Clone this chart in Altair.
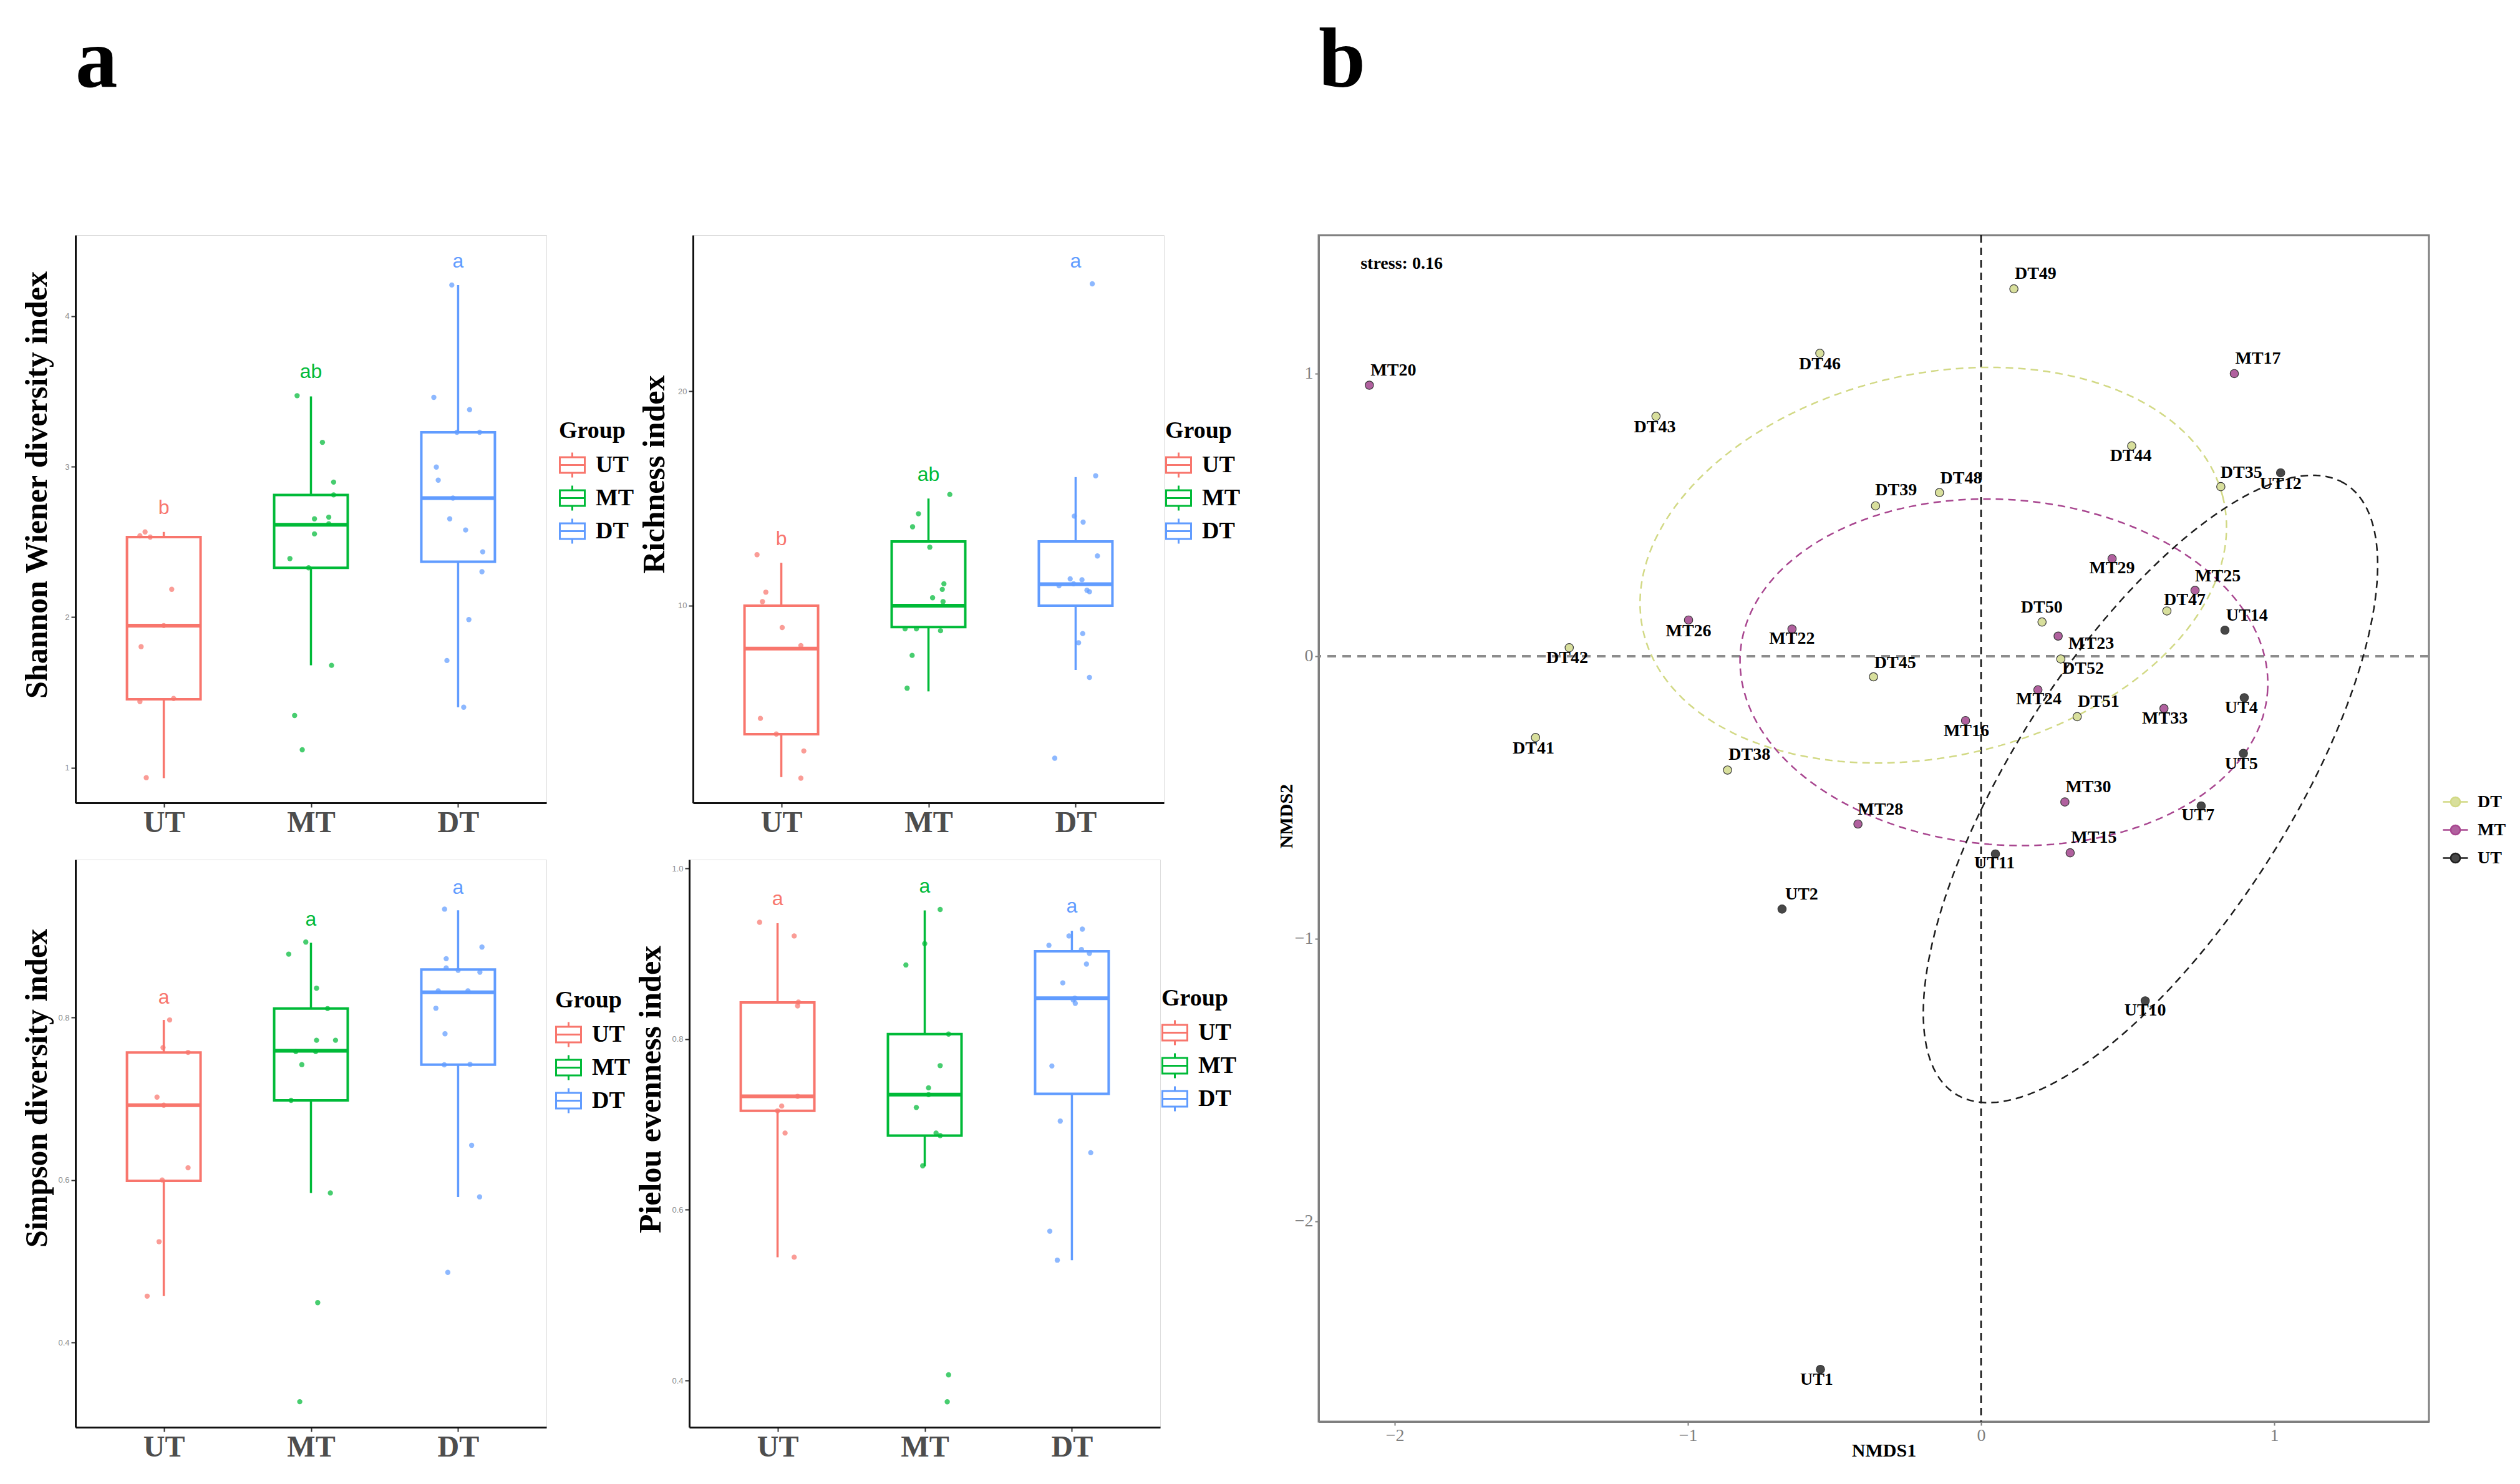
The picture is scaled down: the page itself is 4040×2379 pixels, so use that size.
import altair as alt
import pandas as pd
import numpy as np

SERIF = "Liberation Serif"
SANS = "Liberation Sans"
GROUPS = ["UT", "MT", "DT"]
BOX_COLORS = ["#F8766D", "#00BA38", "#619CFF"]

# ---------------- panel a : alpha diversity ----------------
# jittered sample values (as drawn) and their horizontal jitter (category units)
sh_UT = [2.566, 2.532, 2.54, 2.185, 1.944, 1.804, 1.439, 1.46, 0.934]
sh_UT_j = [-0.127, -0.092, -0.162, 0.054, 0.0, -0.154, -0.162, 0.067, -0.119]
sh_MT = [3.471, 3.161, 2.897, 2.812, 2.653, 2.664, 2.62, 2.553, 2.389, 2.328, 1.68, 1.347, 1.119]
sh_MT_j = [-0.094, 0.078, 0.154, 0.154, 0.024, 0.121, 0.121, 0.024, -0.143, -0.016, 0.14, -0.111, -0.059]
sh_DT = [4.206, 3.46, 3.378, 3.228, 3.228, 2.997, 2.91, 2.791, 2.653, 2.579, 2.434, 2.302, 1.984, 1.712, 1.402]
sh_DT_j = [-0.043, -0.165, 0.078, -0.008, 0.146, -0.148, -0.135, -0.035, -0.057, 0.051, 0.167, 0.162, 0.073, -0.076, 0.038]
sh_lo = [0.931, 1.68, 1.402]
sh_q1 = [1.455, 2.328, 2.368]
sh_med = [1.944, 2.614, 2.791]
sh_q3 = [2.532, 2.812, 3.228]
sh_hi = [2.566, 3.466, 4.206]
sh_letters = ["b", "ab", "a"]
sh_letter_y = [2.725, 3.63, 4.365]

ri_UT = [12.38, 10.63, 10.19, 8.98, 8.14, 4.74, 4.01, 3.22, 1.95]
ri_UT_j = [-0.165, -0.105, -0.128, 0.006, 0.133, -0.142, -0.034, 0.153, 0.133]
ri_MT = [15.19, 14.29, 13.68, 12.73, 11.02, 10.76, 10.37, 10.19, 8.92, 8.92, 8.83, 7.68, 6.15]
ri_MT_j = [0.145, -0.068, -0.108, 0.009, 0.105, 0.094, 0.028, 0.099, -0.159, -0.082, 0.082, -0.111, -0.145]
ri_DT = [25.02, 16.06, 14.18, 13.9, 12.32, 11.25, 11.21, 10.93, 10.72, 10.65, 8.7, 8.27, 6.65, 2.88, 11.02]
ri_DT_j = [0.113, 0.136, -0.009, 0.051, 0.148, -0.037, 0.043, -0.113, 0.077, 0.094, 0.048, 0.02, 0.094, -0.142, -0.014]
ri_lo = [2, 6, 7]
ri_q1 = [4, 9, 10]
ri_med = [8, 10, 11]
ri_q3 = [10, 13, 13]
ri_hi = [12, 15, 16]
ri_letters = ["b", "ab", "a"]
ri_letter_y = [13.1, 16.1, 26.08]

si_UT = [0.797, 0.763, 0.757, 0.702, 0.692, 0.615, 0.6, 0.524, 0.457]
si_UT_j = [0.04, -0.005, 0.165, -0.046, 0.0, 0.165, -0.011, -0.032, -0.113]
si_MT = [0.8928, 0.878, 0.836, 0.811, 0.772, 0.772, 0.758, 0.758, 0.742, 0.698, 0.584, 0.449, 0.327]
si_MT_j = [-0.035, -0.151, 0.038, 0.113, 0.038, 0.167, -0.103, 0.032, -0.062, -0.135, 0.132, 0.046, -0.076]
si_DT = [0.9334, 0.8867, 0.8724, 0.861, 0.8557, 0.8328, 0.8328, 0.8114, 0.78, 0.7418, 0.7423, 0.6427, 0.5792, 0.4862, 0.858]
si_DT_j = [-0.092, 0.162, -0.081, -0.081, 0.148, -0.135, 0.067, -0.151, -0.089, -0.094, 0.081, 0.092, 0.146, -0.07, 0.0]
si_lo = [0.457, 0.584, 0.579]
si_q1 = [0.599, 0.698, 0.742]
si_med = [0.692, 0.759, 0.831]
si_q3 = [0.757, 0.811, 0.859]
si_hi = [0.797, 0.892, 0.932]
si_letters = ["a", "a", "a"]
si_letter_y = [0.825, 0.921, 0.96]

pi_UT = [0.937, 0.921, 0.8435, 0.839, 0.733, 0.7216, 0.716, 0.690, 0.5445]
pi_UT_j = [-0.122, 0.113, 0.142, 0.136, 0.136, 0.028, 0.0, 0.051, 0.113]
pi_MT = [0.952, 0.912, 0.887, 0.806, 0.769, 0.743, 0.735, 0.720, 0.690, 0.687, 0.6515, 0.4066, 0.375]
pi_MT_j = [0.105, 0.0, -0.128, 0.162, 0.105, 0.026, 0.026, -0.057, 0.077, 0.105, -0.014, 0.162, 0.153]
pi_DT = [0.929, 0.921, 0.91, 0.905, 0.9006, 0.888, 0.866, 0.842, 0.846, 0.7686, 0.704, 0.667, 0.575, 0.541, 0.848]
pi_DT_j = [0.071, -0.02, -0.156, 0.065, 0.119, 0.099, -0.062, 0.023, 0.009, -0.136, -0.079, 0.128, -0.15, -0.099, 0.02]
pi_lo = [0.5445, 0.651, 0.541]
pi_q1 = [0.716, 0.687, 0.736]
pi_med = [0.733, 0.735, 0.848]
pi_q3 = [0.843, 0.806, 0.903]
pi_hi = [0.936, 0.951, 0.927]
pi_letters = ["a", "a", "a"]
pi_letter_y = [0.9645, 0.979, 0.956]

# ---------------- panel b : NMDS ----------------
nm_sample = ["MT20", "DT46", "DT43", "DT39", "MT26", "MT22", "DT42", "DT45", "DT41", "DT38",
             "MT28", "DT49", "MT17", "DT44", "DT48", "DT35", "UT12", "MT29", "MT25", "DT47",
             "UT14", "DT50", "MT23", "DT52", "MT24", "DT51", "MT33", "UT4", "MT16", "UT5",
             "MT30", "UT7", "MT15", "UT11", "UT10", "UT2", "UT1"]
nm_x = [-2.087, -0.55, -1.109, -0.36, -0.998, -0.645, -1.405, -0.367, -1.52, -0.865,
        -0.42, 0.112, 0.864, 0.514, -0.142, 0.818, 1.022, 0.447, 0.73, 0.634,
        0.832, 0.208, 0.263, 0.272, 0.194, 0.328, 0.624, 0.898, -0.053, 0.895,
        0.286, 0.751, 0.304, 0.049, 0.56, -0.679, -0.548]
nm_y = [0.959, 1.072, 0.849, 0.532, 0.128, 0.096, 0.03, -0.073, -0.288, -0.403,
        -0.594, 1.30, 1.0, 0.744, 0.579, 0.60, 0.649, 0.345, 0.233, 0.16,
        0.092, 0.121, 0.071, -0.01, -0.119, -0.214, -0.185, -0.147, -0.228, -0.344,
        -0.516, -0.53, -0.696, -0.70, -1.22, -0.895, -2.524]
nm_lab_x = [-2.005, -0.55, -1.113, -0.29, -0.998, -0.645, -1.412, -0.293, -1.527, -0.79,
            -0.343, 0.186, 0.945, 0.511, -0.068, 0.888, 1.022, 0.447, 0.808, 0.695,
            0.907, 0.207, 0.376, 0.348, 0.197, 0.401, 0.627, 0.888, -0.05, 0.888,
            0.366, 0.74, 0.385, 0.046, 0.56, -0.612, -0.561]
nm_lab_y = [1.011, 1.032, 0.811, 0.586, 0.089, 0.061, -0.007, -0.024, -0.326, -0.35,
            -0.543, 1.353, 1.052, 0.709, 0.628, 0.649, 0.61, 0.311, 0.283, 0.199,
            0.143, 0.171, 0.043, -0.045, -0.153, -0.161, -0.221, -0.183, -0.266, -0.383,
            -0.463, -0.563, -0.643, -0.734, -1.255, -0.843, -2.56]
# confidence ellipses: centre, semi-axes and rotation (degrees)
ell_group = ["DT", "MT", "UT"]
ell_cx = [-0.163, 0.078, 0.578]
ell_cy = [0.322, -0.057, -0.47]
ell_a = [1.017, 0.902, 1.268]
ell_b = [0.676, 0.611, 0.475]
ell_angle = [13.9, -4.7, 58.6]
NM_GROUPS = ["DT", "MT", "UT"]
NM_FILL = ["#d8df9c", "#b0609e", "#474747"]
NM_LINE = ["#d2d985", "#a8458f", "#1e1e1e"]
stress_text = ["stress: 0.16"]
stress_x = [-2.117]
stress_y = [1.389]

BOX_GLYPH = "M-1,-0.62L1,-0.62L1,0.62L-1,0.62Z M-1,0L1,0 M0,-0.62L0,-1 M0,0.62L0,1"
NM_GLYPH = "M-1,0L-0.38,0 M0.38,0L1,0 M-0.38,0A0.38,0.38 0 1,1 0.38,0A0.38,0.38 0 1,1 -0.38,0Z"

PW, PH = 755, 910


def box_panel(ytitle, values, jitters, lo, q1, med, q3, hi, letters, letter_y,
              ydomain, yticks, yfmt, title_y, legend_x, legend_y):
    rows = []
    for gi, g in enumerate(GROUPS):
        for v, j in zip(values[gi], jitters[gi]):
            rows.append({"group": g, "pos": gi + 1 + j, "value": v})
    pdf = pd.DataFrame(rows)
    sdf = pd.DataFrame({"group": GROUPS, "idx": [1, 2, 3], "lo": lo, "q1": q1, "med": med,
                        "q3": q3, "hi": hi, "letter": letters, "ly": letter_y})

    xs = alt.Scale(domain=[0.4, 3.6], nice=False, zero=False)
    ys = alt.Scale(domain=ydomain, nice=False, zero=False)
    xa = alt.Axis(values=[1, 2, 3], labelExpr="datum.value == 1 ? 'UT' : (datum.value == 2 ? 'MT' : 'DT')",
                  title=None, grid=False, labelFont=SERIF, labelFontWeight="bold", labelFontSize=48,
                  labelColor="#4d4d4d", labelPadding=1, tickSize=7, tickColor="#333333", tickWidth=2,
                  domainColor="#111111", domainWidth=3, labelFlush=False, labelOverlap=False)
    ya = alt.Axis(values=yticks, format=yfmt, title=ytitle, titleFont=SERIF, titleFontWeight="bold",
                  titleFontSize=50, titleColor="black", titleX=-47, titleY=title_y,
                  titleBaseline="alphabetic", titleAngle=270, labelFont=SANS, labelFontSize=13,
                  labelColor="#8a8a8a", labelPadding=3, tickSize=7, tickColor="#333333", tickWidth=2,
                  domainColor="#111111", domainWidth=3, grid=False)

    def X(f):
        return alt.X(f, scale=xs, axis=xa)

    def Y(f):
        return alt.Y(f, scale=ys, axis=ya)

    legend = alt.Legend(title="Group", orient="none", legendX=legend_x, legendY=legend_y,
                        titleFont=SERIF, titleFontSize=38, titleFontWeight="bold", titleColor="black",
                        labelFont=SERIF, labelFontSize=38, labelFontWeight="bold", labelColor="black",
                        symbolType=BOX_GLYPH, symbolSize=1600, symbolStrokeWidth=3,
                        symbolFillColor="white", rowPadding=0, titlePadding=14, labelOffset=16,
                        padding=0)
    stroke = alt.Stroke("group:N", scale=alt.Scale(domain=GROUPS, range=BOX_COLORS), legend=legend)
    # same colours, domain listed in another order so that this (hidden) legend is not merged
    fill = alt.Fill("group:N", scale=alt.Scale(domain=GROUPS[::-1], range=BOX_COLORS[::-1]), legend=None)

    base = alt.Chart(sdf)
    w_lo = base.mark_rule(strokeWidth=3.5).encode(x=X("idx:Q"), y=Y("lo:Q"), y2="q1:Q", stroke=stroke)
    w_hi = base.mark_rule(strokeWidth=3.5).encode(x=X("idx:Q"), y=Y("q3:Q"), y2="hi:Q", stroke=stroke)
    box = base.transform_calculate(x0="datum.idx - 0.25", x1="datum.idx + 0.25").mark_rect(
        filled=False, strokeWidth=4).encode(x=X("x0:Q"), x2="x1:Q", y=Y("q1:Q"), y2="q3:Q", stroke=stroke)
    md = base.transform_calculate(x0="datum.idx - 0.25", x1="datum.idx + 0.25").mark_rule(
        strokeWidth=6).encode(x=X("x0:Q"), x2="x1:Q", y=Y("med:Q"), stroke=stroke)
    pts = alt.Chart(pdf).mark_circle(size=70, opacity=0.72).encode(x=X("pos:Q"), y=Y("value:Q"), fill=fill)
    let = base.mark_text(font=SANS, fontSize=32, baseline="middle").encode(
        x=X("idx:Q"), y=Y("ly:Q"), text="letter:N", fill=fill)
    return alt.layer(w_lo, w_hi, box, md, pts, let).properties(width=PW, height=PH)


shannon = box_panel("Shannon Wiener diversity index", [sh_UT, sh_MT, sh_DT], [sh_UT_j, sh_MT_j, sh_DT_j],
                    sh_lo, sh_q1, sh_med, sh_q3, sh_hi, sh_letters, sh_letter_y,
                    [0.767, 4.537], [1, 2, 3, 4], "d", 400, 775, 295)
richness = box_panel("Richness index", [ri_UT, ri_MT, ri_DT], [ri_UT_j, ri_MT_j, ri_DT_j],
                     ri_lo, ri_q1, ri_med, ri_q3, ri_hi, ri_letters, ri_letter_y,
                     [0.8, 27.29], [10, 20], "d", 383, 757, 295)
simpson = box_panel("Simpson diversity index", [si_UT, si_MT, si_DT], [si_UT_j, si_MT_j, si_DT_j],
                    si_lo, si_q1, si_med, si_q3, si_hi, si_letters, si_letter_y,
                    [0.2956, 0.9944], [0.4, 0.6, 0.8], ".1f", 366, 769, 207)
pielou = box_panel("Pielou evenness index", [pi_UT, pi_MT, pi_DT], [pi_UT_j, pi_MT_j, pi_DT_j],
                   pi_lo, pi_q1, pi_med, pi_q3, pi_hi, pi_letters, pi_letter_y,
                   [0.3452, 1.0105], [0.4, 0.6, 0.8, 1.0], ".1f", 368, 757, 204)

# ---------------- NMDS ----------------
nm_df = pd.DataFrame({"sample": nm_sample, "x": nm_x, "y": nm_y, "lx": nm_lab_x, "ly": nm_lab_y})
nm_df["group"] = nm_df["sample"].str[:2]

ell_rows = []
ts = np.linspace(0, 2 * np.pi, 181)
for g, cx, cy, a, b, ang in zip(ell_group, ell_cx, ell_cy, ell_a, ell_b, ell_angle):
    th = np.deg2rad(ang)
    for k, t in enumerate(ts):
        ex = cx + a * np.cos(t) * np.cos(th) - b * np.sin(t) * np.sin(th)
        ey = cy + a * np.cos(t) * np.sin(th) + b * np.sin(t) * np.cos(th)
        ell_rows.append({"group": g, "k": k, "ex": ex, "ey": ey})
ell_df = pd.DataFrame(ell_rows)
zero_df = pd.DataFrame({"v": [0.0]})
stress_df = pd.DataFrame({"t": stress_text, "x": stress_x, "y": stress_y})

NW, NH = 1780, 1902
xs_n = alt.Scale(domain=[-2.26, 1.528], nice=False, zero=False)
ys_n = alt.Scale(domain=[-2.709, 1.49], nice=False, zero=False)
common_axis = dict(grid=False, labelFont=SERIF, labelFontSize=28, labelColor="#7f7f7f",
                   tickColor="#7f7f7f", tickSize=6, tickWidth=2, domainColor="#7f7f7f", domainWidth=3,
                   titleFont=SERIF, titleFontWeight="bold", titleFontSize=30, titleColor="black",
                   format="d", labelFlush=False)
xa_n = alt.Axis(values=[-2, -1, 0, 1], title="NMDS1", labelPadding=2, titleX=906, titleY=55,
                titleBaseline="alphabetic", **common_axis)
ya_n = alt.Axis(values=[-2, -1, 0, 1], title="NMDS2", labelPadding=3, titleX=-43, titleY=931,
                titleBaseline="alphabetic", titleAngle=270, **common_axis)


def Xn(f):
    return alt.X(f, scale=xs_n, axis=xa_n)


def Yn(f):
    return alt.Y(f, scale=ys_n, axis=ya_n)


nm_legend = alt.Legend(title=None, orient="none", legendX=1801, legendY=887, symbolType=NM_GLYPH,
                       symbolSize=1600, symbolStrokeWidth=2.5, labelFont=SERIF, labelFontWeight="bold",
                       labelFontSize=28, labelColor="black", rowPadding=9, labelOffset=14, padding=0)

ref_h = alt.Chart(zero_df).mark_rule(color="#8c8c8c", strokeWidth=4, strokeDash=[14, 10]).encode(y=Yn("v:Q"))
ref_v = alt.Chart(zero_df).mark_rule(color="#111111", strokeWidth=2.5, strokeDash=[12, 8]).encode(x=Xn("v:Q"))
ell = alt.Chart(ell_df).mark_line(strokeWidth=2.5, strokeDash=[12, 8]).encode(
    x=Xn("ex:Q"), y=Yn("ey:Q"), order="k:Q",
    stroke=alt.Stroke("group:N", scale=alt.Scale(domain=NM_GROUPS, range=NM_LINE), legend=nm_legend))
pts_n = alt.Chart(nm_df).mark_circle(size=180, stroke="#3a3a3a", strokeWidth=1.2, opacity=1).encode(
    x=Xn("x:Q"), y=Yn("y:Q"),
    fill=alt.Fill("group:N", scale=alt.Scale(domain=NM_GROUPS, range=NM_FILL), legend=nm_legend))
labels_n = alt.Chart(nm_df).mark_text(font=SERIF, fontWeight="bold", fontSize=28, color="black",
                                      baseline="middle").encode(x=Xn("lx:Q"), y=Yn("ly:Q"), text="sample:N")
stress = alt.Chart(stress_df).mark_text(font=SERIF, fontWeight="bold", fontSize=28, color="black",
                                        align="left", baseline="middle").encode(
    x=Xn("x:Q"), y=Yn("y:Q"), text="t:N")

TITLE_OFFSET = 210
nmds = alt.layer(ref_h, ref_v, ell, pts_n, labels_n, stress).properties(
    width=NW, height=NH,
    view=alt.ViewBackground(stroke="#7f7f7f", strokeWidth=3),
    title=alt.TitleParams("b", anchor="start", frame="group", fontSize=135, font=SERIF,
                          fontWeight="bold", color="black", offset=TITLE_OFFSET))


def indep(c):
    return c.resolve_scale(stroke="independent", fill="independent").resolve_legend(
        stroke="independent", fill="independent")


top_row = indep(alt.hconcat(shannon, richness, spacing=5))
bot_row = indep(alt.hconcat(simpson, pielou, spacing=5))
left = indep(alt.vconcat(top_row, bot_row, spacing=33,
                         title=alt.TitleParams("a", anchor="start", frame="group", fontSize=135,
                                               font=SERIF, fontWeight="bold", color="black",
                                               offset=TITLE_OFFSET)))
chart = indep(alt.hconcat(left, nmds, spacing=55)).properties(
    padding={"left": 25, "top": 20, "right": 5, "bottom": 5}
).configure_view(strokeWidth=0).configure(background="white")

chart.save("out.html", embed_options={"renderer": "svg", "actions": False})
